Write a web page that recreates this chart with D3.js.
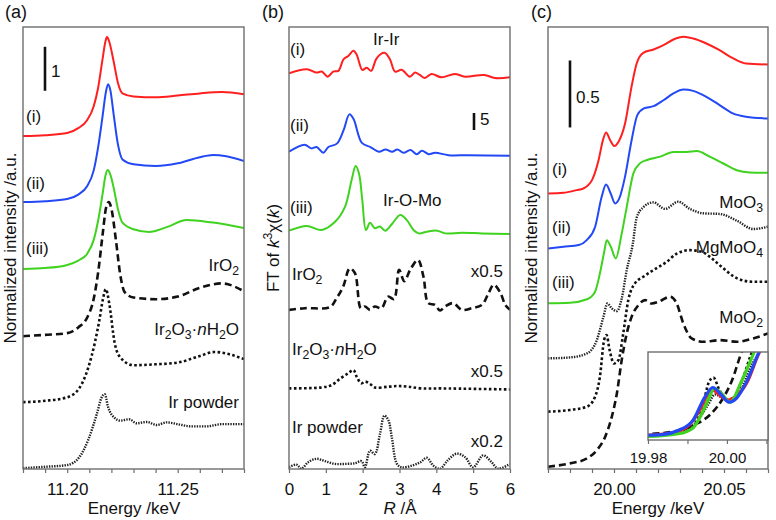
<!DOCTYPE html>
<html><head><meta charset="utf-8">
<script src="https://cdn.jsdelivr.net/npm/d3@7"></script>
<style>
body{margin:0;background:#fff}
text{font-family:"Liberation Sans",Arial,Helvetica,sans-serif;fill:#111}
</style>
</head><body>
<svg id="chart" width="776" height="520"></svg>
<script>
// ---------------- DATA ----------------
// Panel (a): Ir L3-edge XANES, [energy keV, normalized intensity]
const irXanes_i = [[11.18,0],[11.19,0.02],[11.20,0.07],[11.205,0.18],[11.209,0.36],[11.212,0.68],[11.214,1.1],[11.216,1.75],[11.2173,2.15],[11.218,2.25],[11.219,2.15],[11.221,1.7],[11.223,1.2],[11.225,0.97],[11.23,0.9],[11.24,0.88],[11.25,0.92],[11.26,0.97],[11.27,1.0],[11.28,0.95]];
const irXanes_ii = [[11.18,0],[11.19,0.02],[11.20,0.07],[11.205,0.17],[11.209,0.36],[11.212,0.72],[11.214,1.25],[11.216,1.95],[11.2175,2.5],[11.2185,2.68],[11.2195,2.55],[11.221,2.0],[11.223,1.3],[11.225,0.97],[11.23,0.86],[11.24,0.82],[11.25,0.88],[11.26,1.02],[11.266,1.07],[11.272,1.04],[11.28,0.93]];
const irXanes_iii = [[11.18,0],[11.19,0.02],[11.20,0.09],[11.205,0.19],[11.209,0.34],[11.212,0.66],[11.214,1.1],[11.216,1.7],[11.2173,2.12],[11.2183,2.25],[11.2195,2.15],[11.221,1.85],[11.223,1.35],[11.225,1.05],[11.23,0.9],[11.237,0.84],[11.245,0.95],[11.254,1.11],[11.265,1.06],[11.28,0.93]];
const irXanes_IrO2 = [[11.18,0],[11.19,0.03],[11.20,0.07],[11.205,0.2],[11.209,0.42],[11.212,0.85],[11.214,1.45],[11.216,2.3],[11.2175,2.9],[11.2188,3.05],[11.22,2.9],[11.222,2.2],[11.224,1.4],[11.226,1.0],[11.23,0.88],[11.24,0.84],[11.25,0.9],[11.26,1.1],[11.27,1.2],[11.28,1.02]];
const irXanes_Ir2O3 = [[11.18,0],[11.19,0.03],[11.20,0.11],[11.2055,0.32],[11.2095,0.78],[11.2125,1.35],[11.2145,1.85],[11.2162,2.35],[11.2175,2.57],[11.219,2.25],[11.2215,1.34],[11.224,1.02],[11.23,0.84],[11.24,0.86],[11.25,0.9],[11.26,1.05],[11.2665,1.14],[11.28,0.98]];
const irXanes_IrPowder = [[11.18,0],[11.19,0.03],[11.20,0.07],[11.2055,0.25],[11.2095,0.64],[11.2135,1.25],[11.2155,1.6],[11.217,1.68],[11.2185,1.39],[11.2215,1.14],[11.224,1.08],[11.228,1.11],[11.2315,1.02],[11.236,1.05],[11.2405,0.98],[11.245,1.04],[11.25,1.0],[11.256,0.95],[11.263,0.95],[11.27,1.0],[11.28,1.0]];
const irXanesOffsets = [7.57, 6.07, 4.55, 3.02, 1.52, 0.02];
const irXanesTicks = [11.20, 11.25];

// Panel (b): FT of k^3 chi(k), [R Å, magnitude]
const ft_i = [[0,1.4],[0.48,2.6],[0.75,1.6],[0.89,1.9],[1.05,0.4],[1.2,1.9],[1.34,2.1],[1.48,5.5],[1.61,6.5],[1.75,8.0],[1.84,6.8],[1.99,2.4],[2.11,3.0],[2.23,2.1],[2.38,5.8],[2.59,7.4],[2.74,5.5],[2.88,1.9],[3.06,2.4],[3.28,0.4],[3.42,1.6],[3.55,0.9],[3.69,0],[3.87,1.2],[4.14,0.2],[4.5,1.2],[4.78,0.4],[5.3,0.9],[5.59,0],[6.0,0.2]];
const ft_ii = [[0,1.2],[0.42,3.3],[0.61,2.2],[0.75,2.6],[0.93,0.9],[1.07,2.6],[1.3,3.6],[1.48,7.5],[1.64,12.2],[1.75,10.9],[1.98,3.8],[2.21,2.6],[2.44,1.2],[2.62,1.9],[2.8,1.2],[2.94,1.9],[3.11,0.9],[3.3,1.7],[3.47,0.5],[3.61,1.5],[3.79,0.5],[3.97,0.9],[4.33,0.2],[4.87,0.2],[6.0,0]];
const ft_iii = [[0,1.0],[0.48,2.4],[0.89,1.2],[1.25,3.6],[1.52,8.0],[1.7,15.9],[1.81,20.0],[1.9,17.8],[1.99,10.0],[2.09,1.2],[2.2,3.3],[2.33,1.7],[2.47,2.2],[2.61,1.0],[2.79,2.9],[3.02,5.6],[3.2,4.1],[3.38,1.2],[3.52,0.2],[3.75,0.7],[4.02,1.0],[4.24,0.2],[4.7,0.4],[5.24,0.2],[6.0,0]];
const ft_IrO2 = [[0,0.4],[0.43,1.4],[1.11,2.0],[1.29,7.2],[1.47,14],[1.65,24.8],[1.79,22],[1.95,1.4],[2.06,2.4],[2.2,0.4],[2.33,2.4],[2.51,1.4],[2.69,8.2],[2.85,6.8],[2.99,24],[3.13,17.2],[3.29,24],[3.5,29.8],[3.65,20],[3.78,4.4],[3.96,3.4],[4.1,0],[4.24,2.4],[4.46,4.4],[4.69,0.4],[4.96,1.4],[5.24,3.4],[5.42,10.4],[5.56,15.2],[5.74,10.4],[5.87,3.4],[6.0,0.4]];
const ft_Ir2O3 = [[0,0.6],[0.89,1.2],[1.16,2.6],[1.39,6.4],[1.6,9.4],[1.75,11.4],[1.84,7.4],[1.96,3.6],[2.07,4.6],[2.2,3.2],[2.33,1.2],[2.69,1.6],[2.96,2.0],[3.24,1.6],[3.6,0.6],[4.14,0.6],[6.0,0]];
const ft_IrPowder = [[0,2.5],[0.2,6.5],[0.34,0.5],[0.52,10],[0.75,15],[0.98,11.5],[1.25,7.5],[1.52,7.5],[1.79,8.5],[1.97,11.5],[2.06,2.5],[2.2,27],[2.33,22],[2.47,51.5],[2.59,78.5],[2.7,71.5],[2.79,47],[2.93,7.5],[3.06,2.5],[3.34,5],[3.57,10],[3.74,16.5],[3.92,5],[4.1,0.5],[4.32,13.5],[4.55,22.5],[4.78,17.5],[5.0,2.5],[5.27,20],[5.5,10],[5.68,0.5],[6.0,7.5]];
const ftOffsets = [115, 92.1, 69.1, 46.6, 23.4, 0];
const ftFactors = [1, 1, 1, 0.5, 0.5, 0.2];
const ftTicks = [0, 1, 2, 3, 4, 5, 6];

// Panel (c): Mo K-edge XANES, [energy keV, normalized intensity]
const moXanes_i = [[19.97,0],[19.977,0.005],[19.983,0.025],[19.986,0.037],[19.99,0.1],[19.993,0.25],[19.995,0.4],[19.9964,0.455],[19.9982,0.4],[20.0001,0.355],[20.002,0.385],[20.005,0.52],[20.008,0.8],[20.0103,0.97],[20.0133,1.05],[20.018,1.075],[20.0225,1.107],[20.027,1.15],[20.0316,1.17],[20.036,1.157],[20.042,1.12],[20.048,1.07],[20.054,1.01],[20.06,0.97],[20.07,0.963]];
const moXanes_ii = [[19.97,0],[19.977,0.012],[19.984,0.025],[19.9876,0.062],[19.9914,0.16],[19.9944,0.385],[19.9964,0.477],[19.9985,0.41],[20.0005,0.335],[20.0024,0.373],[20.005,0.534],[20.008,0.808],[20.0106,0.995],[20.0136,1.045],[20.018,1.062],[20.0225,1.106],[20.027,1.157],[20.0316,1.186],[20.036,1.176],[20.042,1.131],[20.048,1.07],[20.054,1.008],[20.06,0.983],[20.07,0.97]];
const moXanes_iii = [[19.97,0],[19.98,0.004],[19.9877,0.03],[19.9914,0.087],[19.9936,0.224],[19.9955,0.38],[19.9967,0.47],[19.9986,0.42],[20.0008,0.335],[20.0035,0.52],[20.0058,0.72],[20.0088,0.97],[20.0118,1.045],[20.015,1.07],[20.021,1.095],[20.027,1.13],[20.033,1.13],[20.0376,1.137],[20.0437,1.093],[20.0497,1.044],[20.0558,0.994],[20.0618,0.977],[20.07,0.974]];
const moXanes_MoO3 = [[19.97,0],[19.98,0.007],[19.9877,0.037],[19.9922,0.137],[19.9952,0.31],[19.997,0.41],[19.999,0.373],[20.0013,0.353],[20.0035,0.447],[20.0058,0.66],[20.0085,0.85],[20.0103,1.05],[20.0133,1.128],[20.0179,1.165],[20.0232,1.116],[20.0292,1.17],[20.0345,1.116],[20.0406,1.083],[20.0482,1.078],[20.0558,1.028],[20.0633,0.966],[20.07,0.983]];
const moXanes_MgMoO4 = [[19.97,0],[19.98,0.013],[19.9877,0.037],[19.9914,0.112],[19.9936,0.261],[19.9955,0.535],[19.9966,0.573],[19.998,0.46],[20.0,0.36],[20.002,0.385],[20.0042,0.584],[20.0065,0.833],[20.0095,0.958],[20.0133,1.007],[20.0179,1.057],[20.024,1.119],[20.0285,1.18],[20.0345,1.206],[20.04,1.193],[20.044,1.15],[20.049,1.08],[20.056,0.995],[20.063,0.97],[20.07,0.97]];
const moXanes_MoO2 = [[19.97,0],[19.98,0.025],[19.9877,0.062],[19.9922,0.124],[19.996,0.224],[19.999,0.373],[20.0013,0.547],[20.0035,0.796],[20.0058,0.995],[20.008,1.119],[20.0111,1.206],[20.0141,1.244],[20.0171,1.219],[20.0202,1.231],[20.0255,1.269],[20.0285,1.219],[20.0315,1.07],[20.0353,0.958],[20.0406,0.933],[20.0482,0.945],[20.0558,0.933],[20.0633,0.958],[20.07,0.995]];
const moXanesOffsets = [2.057, 1.647, 1.237, 0.826, 0.428, 0.017];
const moXanesTicks = [20.00, 20.05];
const insetTicks = [19.98, 20.00];

// ---------------- STYLES ----------------
const RED = "#ff1f1f", BLUE = "#2348f5", GREEN = "#3fd21f";
const styles = {
  red:   {stroke: RED, width: 2, dash: null},
  blue:  {stroke: BLUE, width: 2, dash: null},
  green: {stroke: GREEN, width: 2, dash: null},
  dash:  {stroke: "#111", width: 2.6, dash: "7,4"},
  dot:   {stroke: "#111", width: 2.6, dash: "2.6,2.4"},
  fine:  {stroke: "#222", width: 2.4, dash: "1.4,1.2"}
};
const FRAME = "#6e6e6e";

const svg = d3.select("#chart");
const defs = svg.append("defs");

function clip(id, x0, y0, x1, y1){
  defs.append("clipPath").attr("id", id).append("rect")
    .attr("x", x0).attr("y", y0).attr("width", x1 - x0).attr("height", y1 - y0);
}

function rich(sel, parts){
  let shift = 0;
  parts.forEach(p => {
    const s = typeof p === "string" ? p : p[0];
    const t = typeof p === "string" ? "n" : p[1];
    const ts = sel.append("tspan").text(s);
    const target = t === "sub" ? 4 : (t === "sup" ? -7 : 0);
    if (target - shift !== 0) ts.attr("dy", target - shift);
    shift = target;
    if (t === "sub" || t === "sup") ts.attr("font-size", "0.72em");
    if (t === "i") ts.attr("font-style", "italic");
  });
  return sel;
}

function label(x, y, parts, opts = {}){
  const t = svg.append("text").attr("x", x).attr("y", y)
    .attr("font-size", opts.size || 17)
    .attr("text-anchor", opts.anchor || "start");
  rich(t, parts);
  return t;
}

function yTitle(x, y, parts){
  const t = svg.append("text").attr("transform", `translate(${x},${y}) rotate(-90)`)
    .attr("font-size", 17).attr("text-anchor", "middle");
  rich(t, parts);
}

function drawCurves(g, xs, ys, series, curve){
  series.forEach(s => {
    const line = d3.line().x(d => xs(d[0])).y(d => ys(s.off + s.f * d[1])).curve(curve);
    const st = styles[s.style];
    g.append("path").datum(s.data).attr("d", line)
      .attr("fill", "none").attr("stroke", st.stroke)
      .attr("stroke-width", s.w || st.width)
      .attr("stroke-dasharray", st.dash)
      .attr("stroke-linejoin", "round");
  });
}

function bottomAxis(xs, y, tickVals, labels, fmt, pad, size){
  const ax = d3.axisBottom(xs).tickValues(tickVals).tickSize(4).tickPadding(pad || 10)
    .tickFormat(d => labels.some(l => Math.abs(l - d) < 1e-6) ? fmt(d) : "");
  const g = svg.append("g").attr("transform", `translate(0,${y})`).call(ax);
  g.select(".domain").remove();
  g.selectAll(".tick line").attr("stroke", FRAME).attr("stroke-width", 1.2);
  g.selectAll(".tick text").attr("font-size", size || 17).attr("fill", "#111")
    .attr("font-family", '"Liberation Sans",Arial,sans-serif');
  return g;
}

function frame(x0, y0, x1, y1, fill){
  svg.append("rect").attr("x", x0).attr("y", y0).attr("width", x1 - x0).attr("height", y1 - y0)
    .attr("fill", fill || "none").attr("stroke", FRAME).attr("stroke-width", 1.4);
}

function scaleBar(x, y0, y1){
  svg.append("line").attr("x1", x).attr("x2", x).attr("y1", y0).attr("y2", y1)
    .attr("stroke", "#111").attr("stroke-width", 2.6);
}

const TOP = 27, BOT = 469;
const f2 = d3.format(".2f"), f0 = d3.format("d");

// ---------------- PANEL (a) ----------------
const xA = d3.scaleLinear().domain([11.18, 11.28]).range([23, 244]);
const yA = d3.scaleLinear().domain([0, 10.05]).range([BOT, TOP]);
clip("clipA", 23, TOP, 244, BOT);
const gA = svg.append("g").attr("clip-path", "url(#clipA)");
drawCurves(gA, xA, yA, [
  {data: irXanes_IrPowder, off: irXanesOffsets[5], f: 1, style: "fine"},
  {data: irXanes_Ir2O3, off: irXanesOffsets[4], f: 1, style: "dot"},
  {data: irXanes_iii, off: irXanesOffsets[2], f: 1, style: "green"},
  {data: irXanes_IrO2, off: irXanesOffsets[3], f: 1, style: "dash"},
  {data: irXanes_ii, off: irXanesOffsets[1], f: 1, style: "blue"},
  {data: irXanes_i, off: irXanesOffsets[0], f: 1, style: "red"}
], d3.curveMonotoneX);
frame(23, TOP, 244, BOT);
bottomAxis(xA, BOT, d3.range(0, 11).map(i => 11.18 + i * 0.01), irXanesTicks, f2);
scaleBar(45, yA(9.6), yA(8.6));
label(51, 77, ["1"]);
label(26, 122, ["(i)"]);
label(26, 189, ["(ii)"]);
label(26, 254, ["(iii)"]);
label(239, 271, ["IrO", ["2","sub"]], {anchor: "end"});
label(239, 335, ["Ir", ["2","sub"], "O", ["3","sub"], "·", ["n","i"], "H", ["2","sub"], "O"], {anchor: "end"});
label(239, 408, ["Ir powder"], {anchor: "end"});
label(134, 514, ["Energy /keV"], {anchor: "middle"});
yTitle(16, 248, ["Normalized intensity /a.u."]);
label(5, 18, ["(a)"], {size: 18});

// ---------------- PANEL (b) ----------------
const xB = d3.scaleLinear().domain([0, 6]).range([289, 510]);
const yB = d3.scaleLinear().domain([0, 130]).range([BOT, TOP]);
clip("clipB", 289, TOP, 510, BOT);
const gB = svg.append("g").attr("clip-path", "url(#clipB)");
drawCurves(gB, xB, yB, [
  {data: ft_IrPowder, off: ftOffsets[5], f: ftFactors[5], style: "fine"},
  {data: ft_Ir2O3, off: ftOffsets[4], f: ftFactors[4], style: "dot"},
  {data: ft_IrO2, off: ftOffsets[3], f: ftFactors[3], style: "dash"},
  {data: ft_iii, off: ftOffsets[2], f: ftFactors[2], style: "green"},
  {data: ft_ii, off: ftOffsets[1], f: ftFactors[1], style: "blue"},
  {data: ft_i, off: ftOffsets[0], f: ftFactors[0], style: "red"}
], d3.curveCatmullRom.alpha(0.5));
frame(289, TOP, 510, BOT);
bottomAxis(xB, BOT, ftTicks, ftTicks, f0);
scaleBar(474, yB(104.7), yB(99.7));
label(480, 125, ["5"]);
label(290, 55, ["(i)"]);
label(373, 45, ["Ir-Ir"]);
label(290, 131, ["(ii)"]);
label(290, 213, ["(iii)"]);
label(383, 206, ["Ir-O-Mo"]);
label(292, 280, ["IrO", ["2","sub"]]);
label(503, 277, ["x0.5"], {anchor: "end"});
label(292, 355, ["Ir", ["2","sub"], "O", ["3","sub"], "·", ["n","i"], "H", ["2","sub"], "O"]);
label(503, 377, ["x0.5"], {anchor: "end"});
label(292, 433, ["Ir powder"]);
label(503, 447, ["x0.2"], {anchor: "end"});
label(400, 514, [["R","i"], " /Å"], {anchor: "middle"});
yTitle(279, 248, ["FT of ", ["k","i"], ["3","sup"], "χ(", ["k","i"], ")"]);
label(262, 18, ["(b)"], {size: 18});

// ---------------- PANEL (c) ----------------
const xC = d3.scaleLinear().domain([19.97, 20.07]).range([548, 768]);
const yC = d3.scaleLinear().domain([0, 3.3]).range([BOT, TOP]);
clip("clipC", 548, TOP, 768, BOT);
const gC = svg.append("g").attr("clip-path", "url(#clipC)");
drawCurves(gC, xC, yC, [
  {data: moXanes_MoO2, off: moXanesOffsets[5], f: 1, style: "dash"},
  {data: moXanes_MgMoO4, off: moXanesOffsets[4], f: 1, style: "dot"},
  {data: moXanes_MoO3, off: moXanesOffsets[3], f: 1, style: "fine"},
  {data: moXanes_iii, off: moXanesOffsets[2], f: 1, style: "green"},
  {data: moXanes_ii, off: moXanesOffsets[1], f: 1, style: "blue"},
  {data: moXanes_i, off: moXanesOffsets[0], f: 1, style: "red"}
], d3.curveMonotoneX);
frame(548, TOP, 768, BOT);
bottomAxis(xC, BOT, d3.range(0, 11).map(i => 19.97 + i * 0.01), moXanesTicks, f2);
scaleBar(570, yC(3.05), yC(2.55));
label(576, 103, ["0.5"]);
label(552, 175, ["(i)"]);
label(552, 233, ["(ii)"]);
label(552, 288, ["(iii)"]);
label(763, 208, ["MoO", ["3","sub"]], {anchor: "end"});
label(763, 253, ["MgMoO", ["4","sub"]], {anchor: "end"});
label(763, 323, ["MoO", ["2","sub"]], {anchor: "end"});
label(658, 514, ["Energy /keV"], {anchor: "middle"});
yTitle(537, 248, ["Normalized intensity /a.u."]);
label(531, 18, ["(c)"], {size: 18});

// inset
const xI = d3.scaleLinear().domain([19.98, 20.0104]).range([648, 768]);
const yI = d3.scaleLinear().domain([-0.03, 0.82]).range([440, 352]);
svg.append("rect").attr("x", 648).attr("y", 352).attr("width", 120).attr("height", 88).attr("fill", "#fff");
clip("clipI", 648, 352, 768, 440);
const gI = svg.append("g").attr("clip-path", "url(#clipI)");
drawCurves(gI, xI, yI, [
  {data: moXanes_MoO2, off: 0, f: 1, style: "dash"},
  {data: moXanes_MoO3, off: 0, f: 1, style: "fine"},
  {data: moXanes_MgMoO4, off: 0, f: 1, style: "dot"},
  {data: moXanes_i, off: 0, f: 1, style: "red", w: 3.2},
  {data: moXanes_iii, off: 0, f: 1, style: "green", w: 3.2},
  {data: moXanes_ii, off: 0, f: 1, style: "blue", w: 3.2}
], d3.curveMonotoneX);
frame(648, 352, 768, 440);
bottomAxis(xI, 440, [19.98, 19.99, 20.00, 20.01], insetTicks, f2, 8, 15);
</script>
</body></html>
